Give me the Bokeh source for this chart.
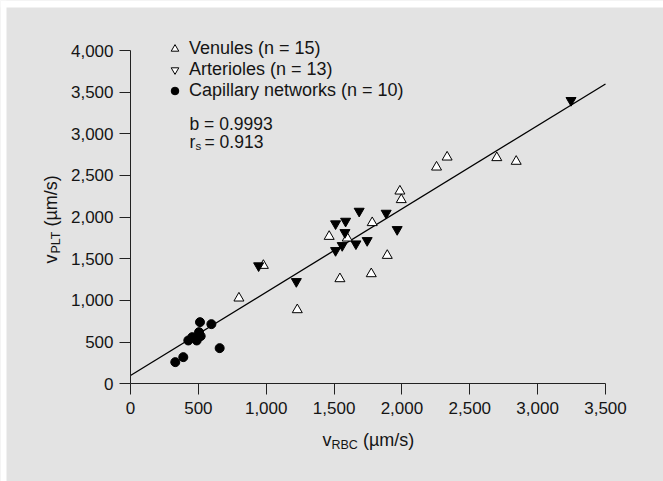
import math
from bokeh.plotting import figure
from bokeh.models import (Range1d, FixedTicker, NumeralTickFormatter, Label,
                          Legend, LegendItem, BoxAnnotation)
from bokeh.embed import file_html
from bokeh.resources import INLINE

# ---- data ----
venules_x = [799, 979, 1229, 1464, 1597, 1543, 1774, 1781, 1892, 1985, 1995, 2255, 2333, 2699, 2842]
venules_y = [1028, 1420, 888, 1768, 1748, 1260, 1320, 1933, 1540, 2312, 2209, 2600, 2720, 2713, 2669]
arterioles_x = [944, 1222, 1511, 1585, 1685, 1884, 1580, 1511, 1560, 1661, 1744, 1965, 3246]
arterioles_y = [1417, 1228, 1921, 1952, 2072, 2048, 1816, 1600, 1660, 1680, 1720, 1852, 3401]
capillary_x = [330, 389, 426, 455, 488, 505, 517, 512, 596, 657]
capillary_y = [260, 320, 520, 560, 520, 620, 572, 740, 716, 428]
fit_x = [0, 3500]
fit_y = [100, 3598]
x_ticks = [0, 500, 1000, 1500, 2000, 2500, 3000, 3500]
y_ticks = [0, 500, 1000, 1500, 2000, 2500, 3000, 3500, 4000]
legend_labels = ["Venules (n = 15)", "Arterioles (n = 13)", "Capillary networks (n = 10)"]
stat_b = "b = 0.9993"
stat_r = "= 0.913"

FONT = "Liberation Sans"
TXT = "#151515"
BG = "#e3e3e3"
AX = "#222222"

W, H = 663, 481
# pixel anchors of the axes box inside the canvas
PX0, PX1 = 130.0, 605.0      # x = 0 and x = 3500
PY0, PY1 = 383.3, 50.0       # y = 0 and y = 4000
XMAX, YMAX = 3500.0, 4000.0
sx = (PX1 - PX0) / XMAX
sy = (PY0 - PY1) / YMAX
x_range = Range1d(-PX0 / sx, (W - PX0) / sx)
y_range = Range1d(-(H - PY0) / sy, PY0 / sy)

p = figure(width=W, height=H, output_backend="svg", toolbar_location=None, title=None,
           x_range=x_range, y_range=y_range,
           min_border_left=0, min_border_right=0, min_border_top=0, min_border_bottom=0)
p.background_fill_color = BG
p.border_fill_color = BG
p.outline_line_color = None
p.grid.visible = False

# white strips at top/left like the reference picture
p.add_layout(BoxAnnotation(left=0, right=6, left_units="screen", right_units="screen",
                           fill_color="white", fill_alpha=1, line_alpha=0, level="underlay"))
p.add_layout(BoxAnnotation(bottom=H - 7, bottom_units="screen",
                           fill_color="white", fill_alpha=1, line_alpha=0, level="underlay"))

for ax, ticks, bnd in ((p.xaxis, x_ticks, (0, XMAX)), (p.yaxis, y_ticks, (0, YMAX))):
    ax.fixed_location = 0
    ax.bounds = bnd
    ax.ticker = FixedTicker(ticks=ticks)
    ax.formatter = NumeralTickFormatter(format="0,0")
    ax.major_tick_out = 11
    ax.major_tick_in = 0
    ax.minor_tick_out = 0
    ax.minor_tick_in = 0
    ax.axis_line_color = AX
    ax.major_tick_line_color = AX
    ax.major_label_text_font = FONT
    ax.major_label_text_font_size = "17px"
    ax.major_label_text_color = TXT
p.xaxis.major_label_standoff = 7
p.yaxis.major_label_standoff = 6

# regression line
p.line(fit_x, fit_y, line_color="black", line_width=1.3)

# data
rv = p.scatter(venules_x, venules_y, marker="triangle", size=10,
               fill_color="white", line_color="black", line_width=1)
ra = p.scatter(arterioles_x, arterioles_y, marker="inverted_triangle", size=10,
               fill_color="black", line_color="black", line_width=1)
rc = p.scatter(capillary_x, capillary_y, marker="circle", size=9,
               fill_color="black", line_color="black", line_width=1)
# open-triangle style used only for the legend entry (hidden renderer)
ra_leg = p.scatter(arterioles_x, arterioles_y, marker="inverted_triangle",
                   fill_color="white", line_color="black", line_width=1, visible=False)

legend = Legend(items=[LegendItem(label=legend_labels[0], renderers=[rv]),
                       LegendItem(label=legend_labels[1], renderers=[ra_leg]),
                       LegendItem(label=legend_labels[2], renderers=[rc])],
                location=(165, 380), orientation="vertical",
                glyph_width=19, glyph_height=19, label_height=19, spacing=0,
                label_standoff=5, padding=0, margin=0,
                border_line_color=None, background_fill_alpha=0,
                inactive_fill_alpha=0,
                label_text_font=FONT, label_text_font_size="18px",
                label_text_line_height=1.0,
                label_text_color=TXT)
p.add_layout(legend)

def lab(text, x, y, size="18px", angle=0.0):
    p.add_layout(Label(x=x, y=y, x_units="screen", y_units="screen", text=text,
                       text_font=FONT, text_font_size=size, text_color=TXT,
                       text_baseline="alphabetic", text_align="left", angle=angle))

# statistics (screen px from the canvas bottom-left)
lab(stat_b, 189, 358, size="17.5px")
lab("r", 189, 340, size="17.5px")
lab("s", 195, 335.5, size="11.5px")
lab(stat_r, 204, 340, size="17.5px")

# x axis title: v_RBC (µm/s)
lab("v", 322, 42)
lab("RBC", 331, 37, size="12.5px")
lab("(µm/s)", 362.5, 42)

# y axis title: v_PLT (µm/s)
A = math.pi / 2
lab("v", 50, 218, angle=A)
lab("PLT", 55, 228, size="12.5px", angle=A)
lab("(µm/s)", 50, 255, angle=A)

open("out.html", "w").write(file_html(p, INLINE))
